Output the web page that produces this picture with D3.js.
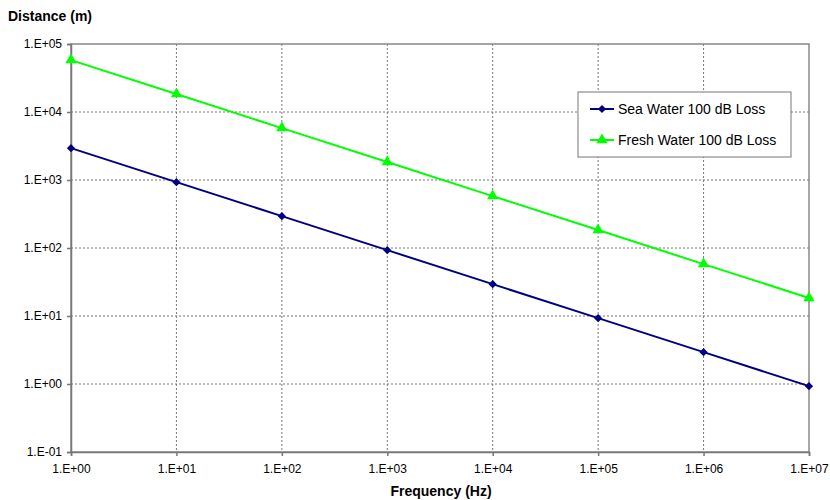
<!DOCTYPE html>
<html>
<head>
<meta charset="utf-8">
<script src="https://cdn.jsdelivr.net/npm/d3@7.9.0/dist/d3.min.js"></script>
<style>
  body { margin: 0; background: #fff; }
  text { font-family: "Liberation Sans", Arial, sans-serif; }
</style>
</head>
<body>
<div id="chart"></div>
<script>
const frequencies = [1e0, 1e1, 1e2, 1e3, 1e4, 1e5, 1e6, 1e7];
const seaWater = [2940, 930, 294, 93, 29.4, 9.3, 2.94, 0.93];
const freshWater = [58000, 18400, 5800, 1840, 580, 184, 58, 18.4];
const xTicks = [1e0, 1e1, 1e2, 1e3, 1e4, 1e5, 1e6, 1e7];
const yTicks = [1e-1, 1e0, 1e1, 1e2, 1e3, 1e4, 1e5];

const width = 830, height = 500;
const margin = { top: 44, right: 21, bottom: 48, left: 71 };

const svg = d3.select('#chart').append('svg')
  .attr('width', width).attr('height', height);

const x = d3.scaleLog()
  .domain([1e0, 1e7])
  .range([margin.left, width - margin.right]);

const y = d3.scaleLog()
  .domain([1e-1, 1e5])
  .range([height - margin.bottom, margin.top]);

// Excel-style "1.E+05" labels
const sci = v => {
  const e = Math.round(Math.log10(v));
  return '1.E' + (e < 0 ? '-' : '+') + String(Math.abs(e)).padStart(2, '0');
};

// grid
svg.append('g').selectAll('line')
  .data(yTicks.slice(1, -1))
  .enter().append('line')
  .attr('x1', margin.left).attr('x2', width - margin.right)
  .attr('y1', d => y(d)).attr('y2', d => y(d))
  .attr('stroke', '#777').attr('stroke-width', 1)
  .attr('stroke-dasharray', '2,2');

svg.append('g').selectAll('line')
  .data(xTicks.slice(1, -1))
  .enter().append('line')
  .attr('x1', d => x(d)).attr('x2', d => x(d))
  .attr('y1', margin.top).attr('y2', height - margin.bottom)
  .attr('stroke', '#777').attr('stroke-width', 1)
  .attr('stroke-dasharray', '2,2');

// plot frame
svg.append('rect')
  .attr('x', margin.left).attr('y', margin.top)
  .attr('width', width - margin.left - margin.right)
  .attr('height', height - margin.top - margin.bottom)
  .attr('fill', 'none').attr('stroke', '#888').attr('stroke-width', 1.5);

const xAxis = svg.append('g')
  .attr('transform', `translate(0,${height - margin.bottom})`)
  .call(d3.axisBottom(x).tickValues(xTicks).tickFormat(sci).tickSize(4).tickPadding(8));

const yAxis = svg.append('g')
  .attr('transform', `translate(${margin.left},0)`)
  .call(d3.axisLeft(y).tickValues(yTicks).tickFormat(sci).tickSize(4).tickPadding(5));

[xAxis, yAxis].forEach(g => {
  g.select('.domain').attr('stroke', '#777').attr('stroke-width', 1.5);
  g.selectAll('.tick line').attr('stroke', '#777').attr('stroke-width', 1.5);
  g.selectAll('.tick text')
    .style('font-family', '"Liberation Sans", Arial, sans-serif')
    .style('font-size', '12px').attr('fill', '#000');
});

svg.append('text')
  .attr('x', 8).attr('y', 21)
  .style('font-size', '14px').style('font-weight', 'bold')
  .text('Distance (m)');

svg.append('text')
  .attr('x', 441).attr('y', 496)
  .attr('text-anchor', 'middle')
  .style('font-size', '14px').style('font-weight', 'bold')
  .text('Frequency (Hz)');

// diamond drawn as a rotated square, wider than d3's symbolDiamond
const diamond = { draw(ctx, size) { const r = Math.sqrt(size) / 2 * 1.3; ctx.moveTo(0, -r); ctx.lineTo(r, 0); ctx.lineTo(0, r); ctx.lineTo(-r, 0); ctx.closePath(); } };

const series = [
  { values: seaWater, color: '#000080', shape: diamond, size: 40, label: 'Sea Water 100 dB Loss' },
  { values: freshWater, color: '#00ff00', shape: d3.symbolTriangle, size: 55, label: 'Fresh Water 100 dB Loss' }
];

const line = d3.line()
  .x(d => x(d.f)).y(d => y(d.v));

series.forEach(s => {
  const pts = frequencies.map((f, i) => ({ f, v: s.values[i] }));
  svg.append('path')
    .datum(pts)
    .attr('fill', 'none')
    .attr('stroke', s.color)
    .attr('stroke-width', 2)
    .attr('d', line);
  svg.append('g').selectAll('path')
    .data(pts)
    .enter().append('path')
    .attr('transform', d => `translate(${x(d.f)},${y(d.v)})`)
    .attr('d', d3.symbol().type(s.shape).size(s.size))
    .attr('fill', s.color);
});

// legend
const legend = svg.append('g').attr('transform', 'translate(578,92)');
legend.append('rect')
  .attr('width', 213).attr('height', 65)
  .attr('fill', '#fff').attr('stroke', '#777').attr('stroke-width', 1);

series.forEach((s, i) => {
  const ly = 17 + i * 31;
  legend.append('line')
    .attr('x1', 12).attr('x2', 36).attr('y1', ly).attr('y2', ly)
    .attr('stroke', s.color).attr('stroke-width', 2);
  legend.append('path')
    .attr('transform', `translate(24,${ly})`)
    .attr('d', d3.symbol().type(s.shape).size(s.size))
    .attr('fill', s.color);
  legend.append('text')
    .attr('x', 40).attr('y', ly + 5)
    .style('font-size', '14px')
    .text(s.label);
});
</script>
</body>
</html>
